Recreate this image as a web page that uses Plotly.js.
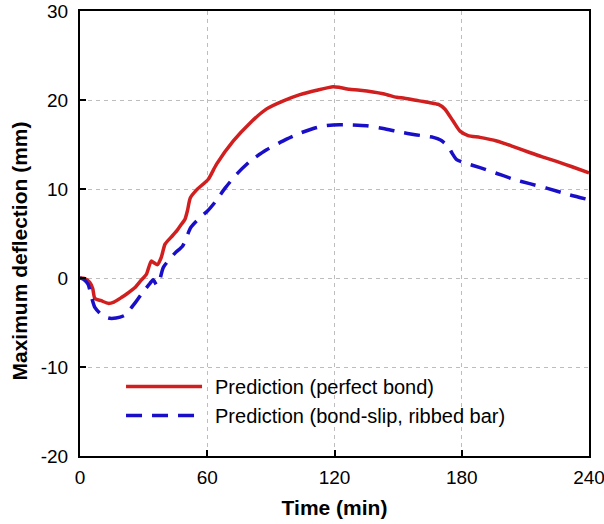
<!DOCTYPE html>
<html>
<head>
<meta charset="utf-8">
<script src="https://cdn.plot.ly/plotly-3.0.1.min.js"></script>
<style>html,body{margin:0;padding:0;background:#fff;}#chart{width:604px;height:524px;}</style>
</head>
<body>
<div id="chart"></div>
<script>
// Time (min) and maximum deflection (mm)
const perfectTime = [0, 2, 4.6, 6, 7, 10, 13.3, 16, 19.5, 22, 25.8, 29, 31.3, 33.6, 35, 36.5, 38.3, 40.1, 43, 45.6, 48, 49.5, 50.7, 52, 55, 60.5, 64.4, 72.3, 80.1, 88, 95.9, 103.7, 111.6, 119.4, 122.6, 127, 132, 143, 149.3, 153, 160, 165, 169, 172, 176, 179.2, 183, 188.6, 196.5, 204, 212, 218, 224.7, 232, 240];
const perfectDefl = [0, -0.05, -0.5, -1.2, -2.3, -2.55, -2.85, -2.7, -2.2, -1.8, -1.1, -0.2, 0.4, 1.9, 1.7, 1.5, 2.3, 3.8, 4.6, 5.3, 6.1, 6.6, 7.6, 9.0, 9.9, 11.1, 12.8, 15.4, 17.4, 19.0, 19.9, 20.6, 21.1, 21.5, 21.4, 21.2, 21.1, 20.7, 20.3, 20.2, 19.9, 19.7, 19.5, 19.0, 17.6, 16.5, 16.0, 15.8, 15.4, 14.8, 14.1, 13.6, 13.1, 12.5, 11.8];

const slipTime = [0, 2, 3.8, 5.5, 7, 10, 13.3, 17, 21, 24, 26.6, 29, 31.3, 33, 34.5, 36.2, 37.5, 39.3, 44.8, 48.4, 52.3, 56.6, 60, 63.6, 68.4, 74, 80.1, 88, 97.4, 104, 110, 115, 119.4, 127, 135.2, 143, 150.9, 158, 166.6, 170, 173.6, 175.5, 177.6, 182, 188.6, 196, 204.3, 212, 220, 230, 240];
const slipDefl = [0, -0.2, -0.7, -2.2, -3.3, -4.1, -4.5, -4.5, -4.2, -3.4, -2.6, -1.8, -1.1, -0.6, -0.2, -0.8, -0.3, 1.2, 2.8, 3.6, 5.7, 6.8, 7.5, 8.5, 10.1, 11.7, 13.1, 14.4, 15.6, 16.3, 16.8, 17.1, 17.2, 17.2, 17.1, 16.8, 16.4, 16.1, 15.8, 15.5, 14.8, 14.0, 13.3, 12.9, 12.4, 11.8, 11.1, 10.6, 10.1, 9.4, 8.8];

const seriesNames = ['Prediction (perfect bond)', 'Prediction (bond-slip, ribbed bar)'];
const xTicks = [0, 60, 120, 180, 240];
const xTickText = ['0', '60', '120', '180', '240'];
const yTicks = [-20, -10, 0, 10, 20, 30];
const yTickText = ['-20', '-10', '0', '10', '20', '30'];

const FONT = '"Liberation Sans", Arial, Helvetica, sans-serif';

const traces = [
  {x: perfectTime, y: perfectDefl, name: seriesNames[0], mode: 'lines',
   line: {color: '#d11f1f', width: 3.5, shape: 'spline', smoothing: 0.6}},
  {x: slipTime, y: slipDefl, name: seriesNames[1], mode: 'lines',
   line: {color: '#1a0fc8', width: 3.5, dash: '16px,10px', shape: 'spline', smoothing: 0.6}}
];

const axisCommon = {
  ticks: 'inside', ticklen: 6, tickwidth: 2, tickcolor: '#000',
  showline: true, linewidth: 2, linecolor: '#000', mirror: true,
  showgrid: true, gridcolor: '#bdbdbd', gridwidth: 1, griddash: '4px,4px',
  zeroline: false, tickfont: {family: FONT, size: 19, color: '#000'},
  automargin: false, ticklabeloverflow: 'allow'
};

// trailing non-breaking spaces (kept by a zero-width space) shift the rotated title down
const NB = '\u00a0\u00a0\u00a0\u00a0\u00a0\u00a0\u200b';

const layout = {
  width: 604, height: 524,
  margin: {l: 80, r: 15, t: 11, b: 68},
  paper_bgcolor: '#fff', plot_bgcolor: '#fff',
  font: {family: FONT, color: '#000'},
  showlegend: true,
  legend: {x: 0.0806, y: 0.2, xanchor: 'left', yanchor: 'top',
           bgcolor: 'rgba(0,0,0,0)', borderwidth: 0,
           font: {family: FONT, size: 20, color: '#000'}, tracegroupgap: 0},
  xaxis: Object.assign({}, axisCommon, {
    range: [0, 240], tickmode: 'array', tickvals: xTicks, ticktext: xTickText,
    ticklabelstandoff: 3,
    title: {text: '<b>Time (min)</b>', font: {family: FONT, size: 21, color: '#000'}, standoff: 14}
  }),
  yaxis: Object.assign({}, axisCommon, {
    range: [-20, 30], tickmode: 'array', tickvals: yTicks, ticktext: yTickText,
    ticklabelstandoff: 6,
    title: {text: '<b>Maximum deflection (mm)</b>' + NB, font: {family: FONT, size: 21, color: '#000'}, standoff: 7}
  })
};

Plotly.newPlot('chart', traces, layout, {staticPlot: true, displayModeBar: false}).then(function () {
  // lengthen legend line samples to match the reference
  document.querySelectorAll('.legend .traces').forEach(function (g) {
    g.querySelectorAll('.legendlines path').forEach(function (p) { p.setAttribute('d', 'M5,0h76'); });
    var t = g.querySelector('text.legendtext');
    if (t) t.setAttribute('x', 94);
  });
  document.querySelectorAll('clipPath[id^="legend"] rect').forEach(function (r) { r.setAttribute('width', 600); });
});
</script>
</body>
</html>
